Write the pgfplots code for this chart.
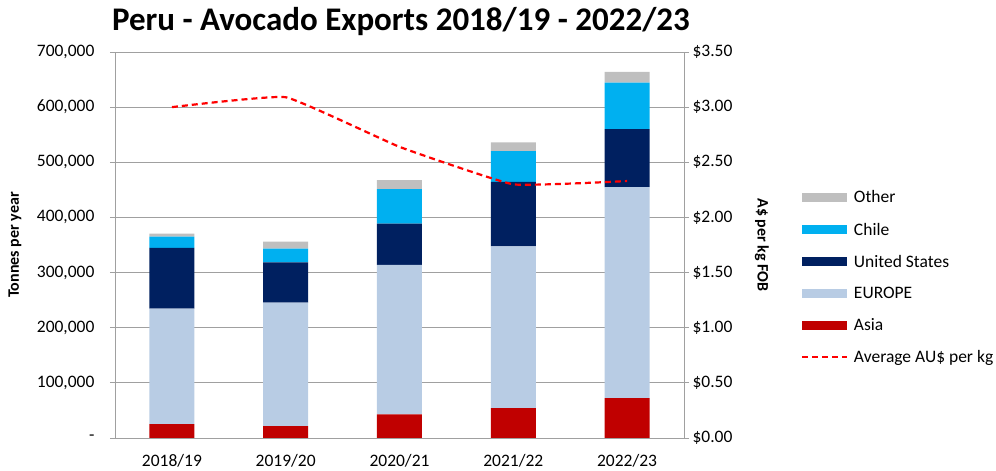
\documentclass[border=0pt]{standalone}
\usepackage{fontspec}
\setmainfont{Carlito}
\usepackage{pgfplots}
\pgfplotsset{compat=1.18}
\definecolor{cOther}{RGB}{191,191,191}
\definecolor{cChile}{RGB}{0,176,240}
\definecolor{cUS}{RGB}{0,32,96}
\definecolor{cEU}{RGB}{184,204,228}
\definecolor{cAsia}{RGB}{192,0,0}
\definecolor{gridgray}{RGB}{160,160,160}
\begin{document}
\begin{tikzpicture}
\useasboundingbox (-115pt,-33pt) rectangle (881pt,438pt);
\begin{axis}[
  scale only axis, width=569pt, height=386pt,
  xmin=-0.5, xmax=4.5, ymin=0, ymax=700000,
  scaled y ticks=false,
  ybar stacked, bar width=45pt,
  xtick={0,1,2,3,4},
  xticklabels={2018/19,2019/20,2020/21,2021/22,2022/23},
  ytick={0,100000,200000,300000,400000,500000,600000,700000},
  yticklabels={{-},{100,000},{200,000},{300,000},{400,000},{500,000},{600,000},{700,000}},
  ymajorgrids, grid style={gridgray, line width=0.8pt},
  axis line style={gridgray, line width=0.8pt},
  tick style={gridgray, line width=0.8pt},
  xtick style={draw=none},
  ytick pos=left, tick align=outside, major tick length=5pt,
  tick label style={font=\fontsize{17.5}{20}\selectfont},
  xticklabel style={yshift=-8pt},
  yticklabel style={xshift=-12pt},
  ylabel={Tonnes per year},
  ylabel style={font=\bfseries\fontsize{16}{18}\selectfont, at={(axis description cs:-0.176,0.5)}, anchor=center},
  legend cell align=left,
  legend image code/.code={\draw[#1] (0pt,0pt) -- (45pt,0pt);},
  legend style={draw=none, fill=none, font=\fontsize{17.5}{20}\selectfont,
    at={(axis description cs:1.200,0.646)}, anchor=north west,
    row sep=14.4pt, inner sep=0pt},
]
\addplot[fill=cAsia, draw=none, forget plot] coordinates {(0,25300) (1,21700) (2,42800) (3,54300) (4,72400)};
\addplot[fill=cEU, draw=none, forget plot] coordinates {(0,209400) (1,223800) (2,271000) (3,293300) (4,382600)};
\addplot[fill=cUS, draw=none, forget plot] coordinates {(0,109900) (1,73200) (2,74800) (3,117000) (4,105000)};
\addplot[fill=cChile, draw=none, forget plot] coordinates {(0,20400) (1,24600) (2,62800) (3,55600) (4,84600)};
\addplot[fill=cOther, draw=none, forget plot] coordinates {(0,5500) (1,12700) (2,16300) (3,15800) (4,19200)};
\addlegendimage{line width=9pt, color=cOther}
\addlegendentry{Other}
\addlegendimage{line width=9pt, color=cChile}
\addlegendentry{Chile}
\addlegendimage{line width=9pt, color=cUS}
\addlegendentry{United States}
\addlegendimage{line width=9pt, color=cEU}
\addlegendentry{EUROPE}
\addlegendimage{line width=9pt, color=cAsia}
\addlegendentry{Asia}
\addlegendimage{line width=2.2pt, color=red, dash pattern=on 6pt off 4pt}
\addlegendentry{Average AU\$ per kg}
\end{axis}
\begin{axis}[
  scale only axis, width=569pt, height=386pt,
  xmin=-0.5, xmax=4.5, ymin=0, ymax=3.5,
  axis x line=none, axis y line*=right,
  ytick={0,0.5,1,1.5,2,2.5,3,3.5},
  yticklabels={{\$0.00},{\$0.50},{\$1.00},{\$1.50},{\$2.00},{\$2.50},{\$3.00},{\$3.50}},
  axis line style={gridgray, line width=0.8pt, -},
  tick style={gridgray, line width=0.8pt},
  tick align=outside, major tick length=5pt,
  tick label style={font=\fontsize{17.5}{20}\selectfont},
  ylabel={A\$ per kg FOB},
  ylabel style={font=\bfseries\fontsize{16}{18}\selectfont, at={(axis description cs:1.137,0.5)}, anchor=center, rotate=180},
]
\addplot[red, line width=2.2pt, dash pattern=on 6pt off 4pt, smooth, tension=0.2] coordinates {(0,3.00) (1,3.09) (2,2.64) (3,2.30) (4,2.33)};
\end{axis}
\node[font=\bfseries\fontsize{33}{38}\selectfont] at (286pt,416pt) {Peru - Avocado Exports 2018/19 - 2022/23};
\end{tikzpicture}
\end{document}
